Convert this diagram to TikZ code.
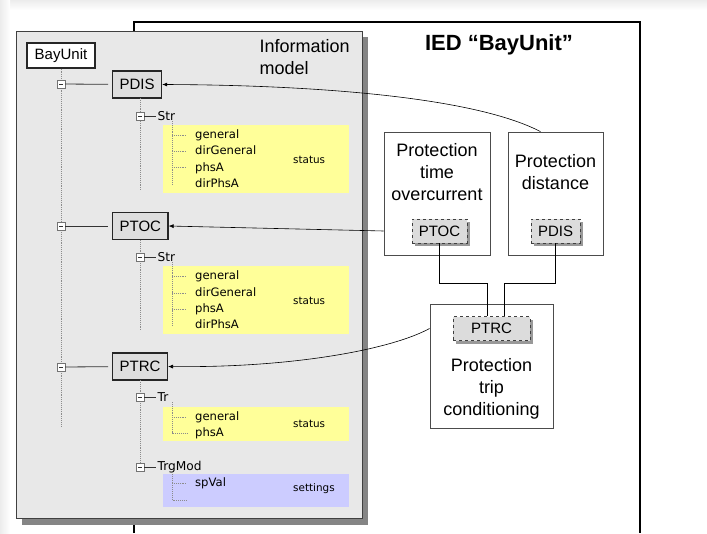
\documentclass[tikz,border=0pt]{standalone}
\usepackage{fontspec}
\setmainfont{Liberation Sans}
\newfontfamily\treefont{DejaVu Sans}
\usetikzlibrary{arrows.meta,positioning,shadows}

\definecolor{infofill}{HTML}{E8E8E8}
\definecolor{lnfill}{HTML}{DEDEDE}
\definecolor{statfill}{HTML}{FFFF99}
\definecolor{setfill}{HTML}{CCCCFF}
\definecolor{dlnfill}{HTML}{DCDCDC}

\begin{document}
\begin{tikzpicture}[x=1pt,y=-1pt,
		lnode/.style={draw=black!85,line width=1.2pt,fill=lnfill,inner xsep=7pt,minimum height=27pt,font=\fontsize{15}{18}\selectfont},
		expd/.style={draw=black!55,fill=white,minimum size=8pt,inner sep=0pt,
			path picture={\draw[black!80,line width=1pt] ([xshift=-2pt]path picture bounding box.center) -- ([xshift=2pt]path picture bounding box.center);}},
		tdot/.style={black!45,densely dotted,line width=0.9pt},
		item/.style={anchor=west,inner sep=0pt,font=\treefont\fontsize{11.6}{13}\selectfont,text height=8.5pt,text depth=2.5pt},
		head/.style={anchor=west,inner sep=1.5pt,font=\treefont\fontsize{12.2}{14}\selectfont},
		kind/.style={anchor=west,inner sep=0pt,font=\treefont\fontsize{10.4}{12}\selectfont},
		fbox/.style={draw=black!70,line width=0.8pt,fill=white},
		ftxt/.style={align=center,font=\fontsize{18}{22}\selectfont},
		dln/.style={draw=black!75,dashed,line width=0.8pt,fill=dlnfill,minimum height=24pt,
			font=\fontsize{15}{18}\selectfont,drop shadow={shadow xshift=3pt,shadow yshift=-3pt,fill=black!40,opacity=1}},
		arr/.style={-{Latex[length=5pt,width=4pt]},line width=0.6pt}]
	\useasboundingbox (0,0) rectangle (707,533);
	\fill[white] (0,0) rectangle (707,533);
	\shade[top color=gray!15,bottom color=white] (0,0) rectangle (707,10);
	\shade[left color=gray!15,right color=white] (0,0) rectangle (10,533);

	% IED frame
	\draw[line width=1.5pt] (134,533) -- (134,22) -- (640,22) -- (640,533);
	\node[font=\bfseries\fontsize{22}{26}\selectfont] (ied) at (499,45) {IED “BayUnit”};

	% information model
	\fill[black!48] (22,37) rectangle (368,525);
	\draw[black!75,line width=0.9pt,fill=infofill] (16,31) rectangle (362,518);
	\node[anchor=west,align=left,font=\fontsize{18}{22}\selectfont] (imodel) at (256,57) {Information\\model};

	\fill[statfill] (163,125) rectangle (349,193);
	\fill[statfill] (163,266) rectangle (349,334);
	\fill[statfill] (163,407) rectangle (349,441);
	\fill[setfill] (163,474) rectangle (349,507);

	\node[draw=black!85,line width=1.2pt,fill=white,minimum width=68pt,minimum height=25pt,
		font=\fontsize{15}{18}\selectfont] (bayunit) at (61,55.5) {BayUnit};
	\draw[tdot] (bayunit.south) -- (61,426);
	\node[lnode,anchor=west] (pdis) at (112,84.5) {PDIS};
	\node[lnode,anchor=west] (ptoc) at (112,226) {PTOC};
	\node[lnode,anchor=west] (ptrc) at (112,366.5) {PTRC};
	\draw[tdot] (140,98) -- (140,191);
	\draw[tdot] (140,240) -- (140,331);
	\draw[tdot] (140,380) -- (140,467);
	\node[expd] (e1) at (61,84) {};
	\node[expd] (e2) at (61,226) {};
	\node[expd] (e3) at (61,367) {};
	\draw[black!80,line width=0.8pt,shorten >=4pt] (e1) -- (pdis);
	\draw[black!80,line width=0.8pt,shorten >=4pt] (e2) -- (ptoc);
	\draw[black!80,line width=0.8pt,shorten >=4pt] (e3) -- (ptrc);

	% data objects
	\node[expd] (s1) at (140,116) {};
	\node[head] (str1) at (156,116) {Str};
	\node[expd] (s2) at (140,257) {};
	\node[head] (str2) at (156,257) {Str};
	\node[expd] (s3) at (140,397) {};
	\node[head] (tr) at (156,397) {Tr};
	\node[expd] (s4) at (140,467) {};
	\node[head] (trgmod) at (156,467) {TrgMod};
	\foreach \e/\t in {s1/str1,s2/str2,s3/tr,s4/trgmod}
		\draw[black!80,line width=0.8pt] (\e) -- (\t);

	% attributes
	\draw[tdot] (172,121) -- (172,185);
	\foreach \y in {135,151,167} \draw[tdot] (172,\y) -- (187,\y);
	\node[item] (gen1) at (195,135) {general};
	\node[item] (dgen1) at (195,151) {dirGeneral};
	\node[item] (phs1) at (195,168) {phsA};
	\node[item] (dphs1) at (195,184) {dirPhsA};
	\node[kind] (stat1) at (293,160) {status};

	\draw[tdot] (172,262) -- (172,326);
	\foreach \y in {276,293,309} \draw[tdot] (172,\y) -- (187,\y);
	\node[item] (gen2) at (195,276) {general};
	\node[item] (dgen2) at (195,293) {dirGeneral};
	\node[item] (phs2) at (195,309) {phsA};
	\node[item] (dphs2) at (195,325) {dirPhsA};
	\node[kind] (stat2) at (293,301) {status};

	\draw[tdot] (172,402) -- (172,433) -- (187,433);
	\draw[tdot] (172,417) -- (187,417);
	\node[item] (gen3) at (195,417) {general};
	\node[item] (phs3) at (195,433) {phsA};
	\node[kind] (stat3) at (293,424) {status};

	\draw[tdot] (172,472) -- (172,500) -- (187,500);
	\draw[tdot] (172,483) -- (187,483);
	\node[item] (spval) at (195,483) {spVal};
	\node[kind] (sett) at (293,489) {settings};

	% functions
	\node[fbox,minimum width=106pt,minimum height=123pt] (fovc) at (437,193.5) {};
	\node[ftxt] (tovc) at (437,172) {Protection\\time\\overcurrent};
	\node[dln,minimum width=55pt] (dptoc) at (439.5,231) {PTOC};
	\node[fbox,minimum width=95pt,minimum height=123pt] (fdist) at (555.5,193.5) {};
	\node[ftxt] (tdist) at (555.5,172.5) {Protection\\distance};
	\node[dln,minimum width=49pt] (dpdis) at (555.5,231) {PDIS};
	\node[fbox,minimum width=123pt,minimum height=124pt] (ftrip) at (491.5,366) {};
	\node[dln,minimum width=77pt] (dptrc) at (491.5,328.5) {PTRC};
	\node[ftxt] (ttrip) at (491.5,389) {Protection\\trip\\conditioning};

	\draw[line width=0.9pt] (dptoc.south) -- ++(0,40) -| ([xshift=-4.5pt]dptrc.north);
	\draw[line width=0.9pt] (dpdis.south) -- ++(0,40) -| ([xshift=12.5pt]dptrc.north);

	\draw[arr] ([xshift=-15pt]fdist.north) .. controls (470,95) and (300,85) .. (pdis.east);
	\draw[arr] (fovc.west |- dptoc) -- (ptoc.east);
	\draw[arr] (ftrip.west |- dptrc) .. controls (390,350) and (290,368) .. (ptrc.east);
\end{tikzpicture}
\end{document}
